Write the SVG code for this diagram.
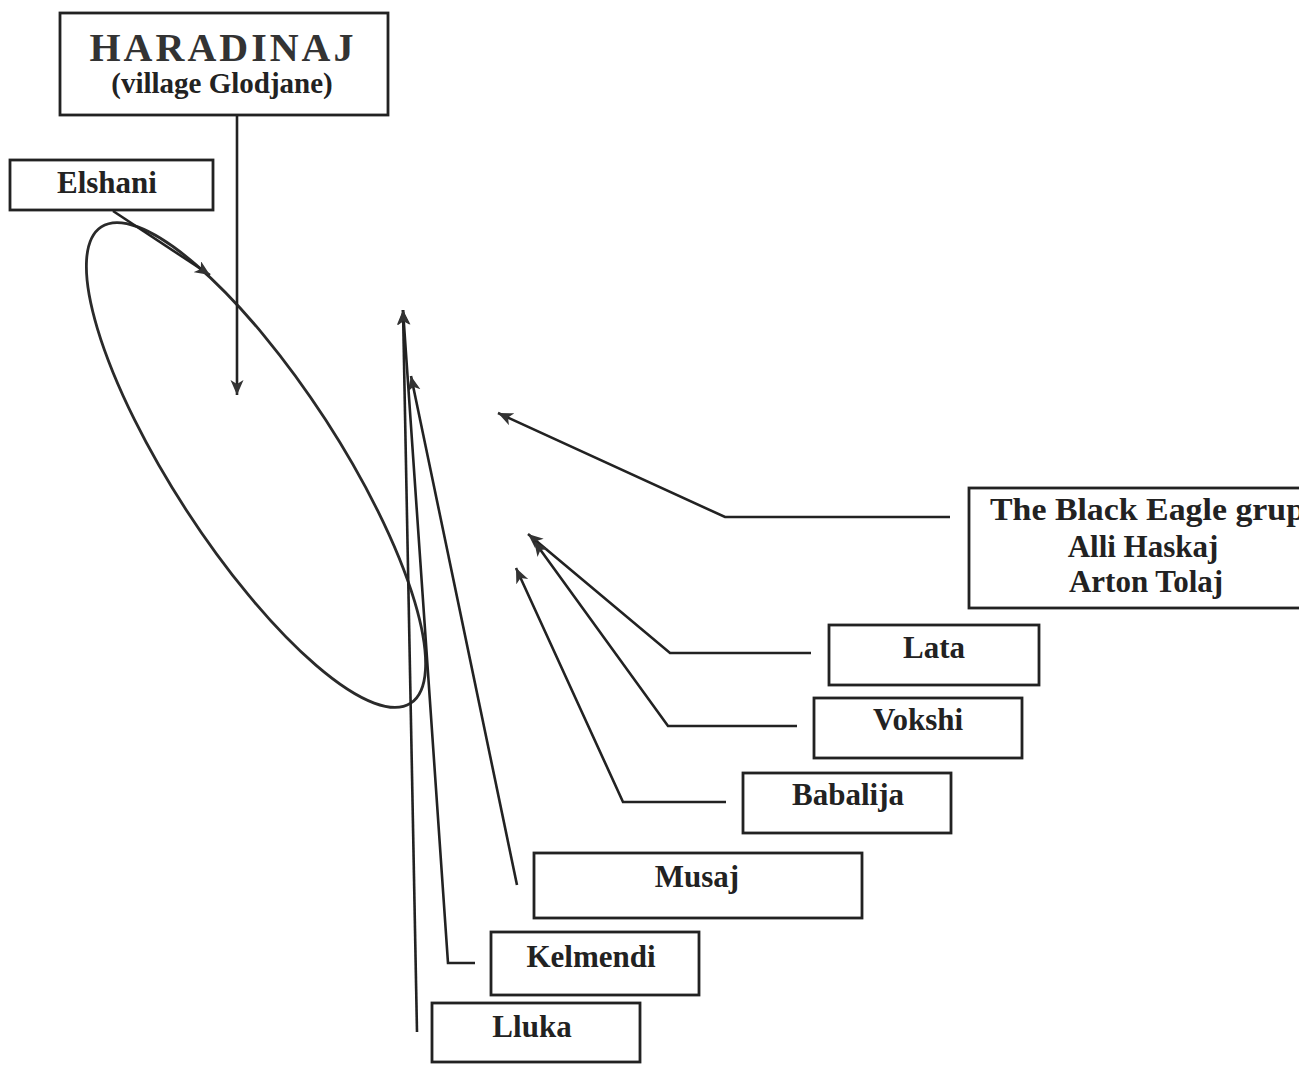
<svg xmlns="http://www.w3.org/2000/svg" width="1299" height="1066" viewBox="0 0 1299 1066">
<defs>
<style>
.box{fill:#fff;stroke:#222;stroke-width:2.8}
.t{font-family:"Liberation Serif","Times New Roman",serif;font-weight:bold;font-size:31px;fill:#222;text-anchor:middle}
.c{fill:none;stroke:#222;stroke-width:2.6;marker-end:url(#ah)}
</style>
<marker id="ah" markerUnits="userSpaceOnUse" markerWidth="16" markerHeight="14" refX="15" refY="6.5" orient="auto">
<path d="M0,0 L15,6.5 L0,13 L4,6.5 z" fill="#333"/>
</marker>
</defs>
<rect width="1299" height="1066" fill="#fff"/>
<ellipse id="ellipse" cx="256" cy="465" rx="284" ry="83" transform="rotate(57 256 465)" fill="none" stroke="#2a2a2a" stroke-width="2.8"/>
<g id="connectors">
<path class="c" d="M237,115 L237,395"/>
<path class="c" d="M113,211 L210,275"/>
<path class="c" d="M950,517 L725,517 L498,413"/>
<path class="c" d="M811,653 L670,653 L528,534"/>
<path class="c" d="M797,726 L668,726 L534,541"/>
<path class="c" d="M726,802 L623,802 L516,568"/>
<path class="c" d="M517,885 L411,376"/>
<path class="c" d="M475,963 L448,963 L403,310"/>
<path class="c" d="M417,1032 L403,310"/>
</g>
<g id="haradinaj">
<rect class="box" x="60" y="13" width="328" height="102"/>
<text class="t" x="223" y="61" style="font-size:40px;letter-spacing:3px;fill:#333">HARADINAJ</text>
<text class="t" x="222" y="93" style="font-size:29px">(village Glodjane)</text>
</g>
<g id="elshani">
<rect class="box" x="10" y="160" width="203" height="50"/>
<text class="t" x="107" y="193">Elshani</text>
</g>
<g id="black-eagle">
<rect class="box" x="969" y="488" width="340" height="120"/>
<text class="t" x="990" y="520" style="text-anchor:start" textLength="315" lengthAdjust="spacingAndGlyphs">The Black Eagle grup</text>
<text class="t" x="1143" y="557">Alli Haskaj</text>
<text class="t" x="1146" y="592">Arton Tolaj</text>
</g>
<g id="lata">
<rect class="box" x="829" y="625" width="210" height="60"/>
<text class="t" x="934" y="658">Lata</text>
</g>
<g id="vokshi">
<rect class="box" x="814" y="698" width="208" height="60"/>
<text class="t" x="918" y="730">Vokshi</text>
</g>
<g id="babalija">
<rect class="box" x="743" y="773" width="208" height="60"/>
<text class="t" x="848" y="805">Babalija</text>
</g>
<g id="musaj">
<rect class="box" x="534" y="853" width="328" height="65"/>
<text class="t" x="697" y="887">Musaj</text>
</g>
<g id="kelmendi">
<rect class="box" x="491" y="932" width="208" height="63"/>
<text class="t" x="591" y="967">Kelmendi</text>
</g>
<g id="lluka">
<rect class="box" x="432" y="1003" width="208" height="59"/>
<text class="t" x="532" y="1037">Lluka</text>
</g>
</svg>
